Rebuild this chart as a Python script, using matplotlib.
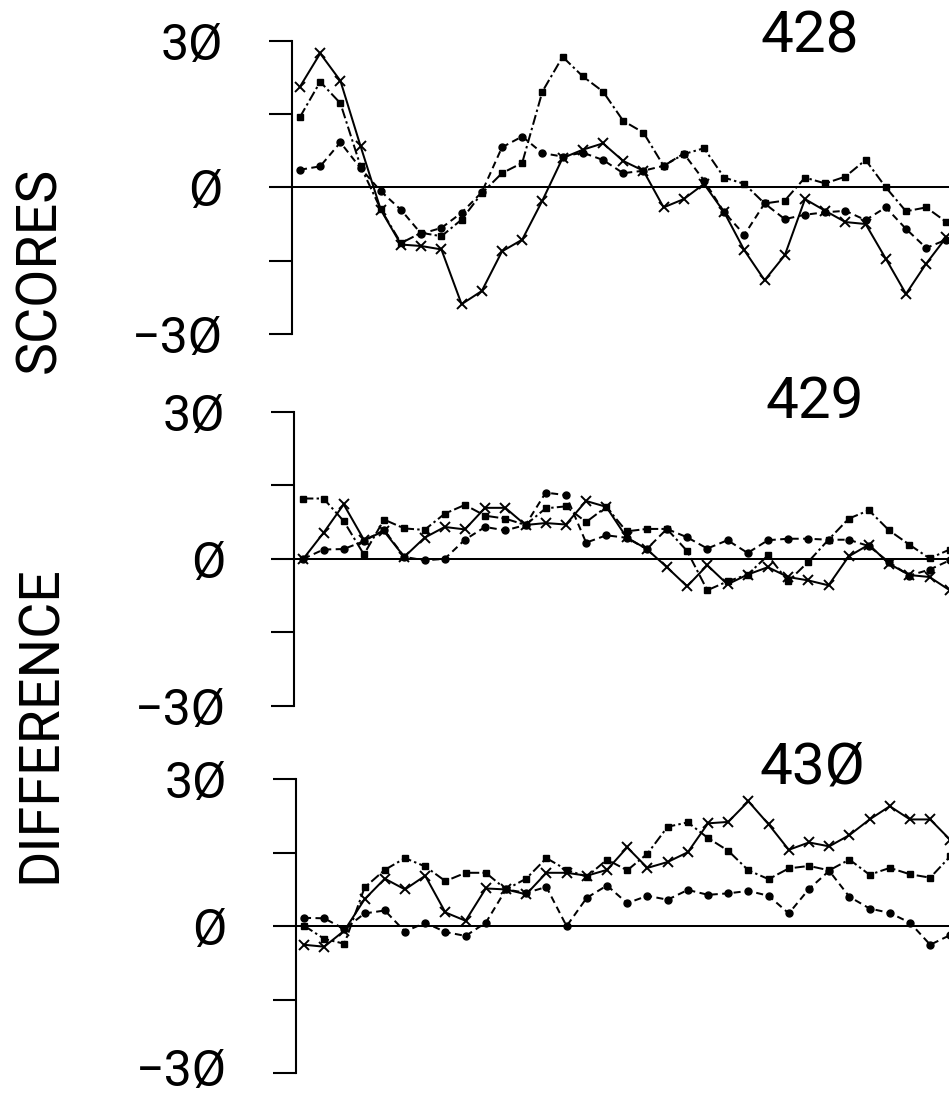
import matplotlib
matplotlib.use("Agg")
import matplotlib.pyplot as plt
import matplotlib.transforms as mtransforms
from matplotlib import font_manager

# ---------------- data ----------------
titles = ["428", "429", "43Ø"]
ytick_values = [-30, -15, 0, 15, 30]
ytick_labels = ["−3Ø", "", "Ø", "", "3Ø"]
ylabel_top = "SCORES"
ylabel_bottom = "DIFFERENCE"

# panel 428
p428_cross = [20.6, 27.4, 21.8, 8.4, -4.6, -11.7, -12.0, -12.7, -23.9, -21.2, -13.1, -10.7,
              -2.7, 6.0, 7.7, 9.0, 5.4, 3.4, -4.1, -2.4, 0.7, -5.1, -12.9, -19.0, -13.9,
              -2.4, -4.8, -7.1, -7.5, -14.6, -21.8, -15.6, -10.2]
p428_square = [14.4, 21.6, 17.2, 4.3, -4.5, -11.4, -9.3, -10.0, -6.6, -1.2, 2.9, 5.0,
               19.6, 26.7, 22.7, 19.6, 13.6, 11.2, 4.4, 6.8, 8.0, 2.0, 0.7, -3.3, -2.7,
               2.0, 0.8, 2.2, 5.6, 0.0, -4.9, -4.1, -7.1]
p428_circle = [3.6, 4.3, 9.2, 3.9, -0.8, -4.6, -9.5, -8.3, -5.2, -1.0, 8.2, 10.4,
               7.0, 6.3, 7.1, 5.6, 2.9, 3.4, 4.4, 6.9, 1.4, -5.1, -9.7, -3.3, -6.5,
               -5.6, -5.1, -4.8, -6.7, -4.1, -8.5, -12.4, -10.7]

# panel 429
p429_cross = [0.0, 5.3, 11.1, 3.9, 5.6, 0.4, 4.3, 6.5, 6.0, 10.4, 10.4, 6.9,
              7.3, 7.0, 11.8, 10.6, 4.4, 2.0, -1.7, -5.6, -1.3, -5.2, -3.2, -1.7, -3.7,
              -4.4, -5.4, 0.5, 2.9, -1.0, -3.3, -3.7, -6.4]
p429_square = [12.3, 12.3, 7.7, 0.9, 8.0, 6.2, 5.9, 9.2, 11.0, 8.8, 8.2, 6.9,
               10.3, 10.7, 7.5, 10.6, 5.6, 6.1, 6.1, 1.6, -6.4, -4.6, -3.2, 0.7, -4.6,
               -0.6, 3.9, 8.2, 9.9, 5.8, 2.9, 0.1, 1.9]
p429_circle = [0.0, 1.9, 2.0, 3.6, 5.9, 0.4, -0.3, 0.0, 3.9, 6.5, 5.8, 6.9,
               13.5, 13.0, 3.3, 4.8, 4.3, 2.0, 6.1, 4.4, 2.1, 3.8, 1.2, 3.8, 4.1,
               4.1, 3.9, 3.9, 2.6, -0.7, -3.4, -2.2, -0.3]

# panel 430
p430_cross = [-3.8, -4.2, -0.9, 5.5, 9.7, 7.5, 10.3, 2.8, 1.1, 7.7, 7.5, 6.5,
              10.9, 10.9, 10.3, 11.5, 16.1, 11.9, 13.1, 15.1, 21.0, 21.3, 25.5, 20.8, 15.6,
              17.1, 16.3, 18.6, 21.8, 24.5, 21.8, 21.8, 17.6]
p430_square = [0.1, -2.6, -3.6, 7.9, 11.5, 13.9, 12.2, 9.2, 10.9, 10.9, 7.5, 9.7,
               13.9, 11.5, 10.1, 13.6, 11.4, 14.8, 20.3, 21.2, 18.0, 15.4, 11.4, 9.6, 11.8,
               12.3, 11.4, 13.6, 10.5, 11.9, 10.6, 9.9, 14.3]
p430_circle = [1.7, 1.6, -0.6, 2.6, 3.2, -1.1, 0.7, -1.2, -2.0, 0.7, 7.5, 6.8,
               8.0, 0.0, 5.8, 8.3, 4.7, 6.2, 5.4, 7.4, 6.4, 6.7, 7.2, 6.2, 2.6,
               7.6, 11.3, 6.0, 3.6, 2.7, 0.7, -3.8, -1.8]

panel_data = [
    (p428_cross, p428_square, p428_circle),
    (p429_cross, p429_square, p429_circle),
    (p430_cross, p430_square, p430_circle),
]

# ---------------- fonts ----------------
names = {f.name for f in font_manager.fontManager.ttflist}
FONT = ["Roboto", "DejaVu Sans"] if "Roboto" in names else ["DejaVu Sans"]
plt.rcParams["font.family"] = FONT
WEIGHT = "normal"

# ---------------- layout (pixels of the 949x1096 image) ----------------
W, H = 949, 1096
DX = 20.2  # pixel spacing between successive points
# (axis x, y of +30, y of -30, x of first point, title centre x, title centre y)
layout = [
    (291.7, 40.7, 334.0, 300.0, 810, 37),
    (294.3, 411.7, 706.0, 303.3, 815, 402),
    (295.7, 779.3, 1073.0, 304.0, 812, 768),
]

fig = plt.figure(figsize=(W / 100, H / 100), dpi=100)
fig.patch.set_facecolor("white")

LW = 1.45
axes = []
for (cross, square, circle), title, (axx, ytop, ybot, x0, tx, ty) in zip(panel_data, titles, layout):
    ax = fig.add_axes([axx / W, 1 - ybot / H, (W - axx) / W, (ybot - ytop) / H])
    axes.append(ax)
    ax.set_xlim((axx - x0) / DX, (W - x0) / DX)
    ax.set_ylim(-30, 30)
    idx = list(range(len(cross)))
    ax.axhline(0, color="black", lw=LW, zorder=1)
    ax.plot(idx, square, color="black", lw=LW, linestyle=(0, (5, 1.6, 1.2, 1.6)),
            marker="s", ms=4.6, mfc="black", mec="black", zorder=3)
    ax.plot(idx, circle, color="black", lw=LW, linestyle=(0, (3.5, 2.2)),
            marker="o", ms=5.0, mfc="black", mec="black", zorder=3)
    ax.plot(idx, cross, color="black", lw=LW, linestyle="-",
            marker="x", ms=6.5, mew=1.4, mec="black", zorder=4)
    for side in ("top", "right", "bottom"):
        ax.spines[side].set_visible(False)
    ax.spines["left"].set_linewidth(1.5)
    ax.set_xticks([])
    ax.set_yticks(ytick_values)
    ax.set_yticklabels(ytick_labels)
    ax.tick_params(axis="y", direction="out", length=16.5, width=1.5, pad=33,
                   labelsize=36)
    for lab in ax.get_yticklabels():
        lab.set_fontweight(WEIGHT)
    fig.text(tx / W, 1 - ty / H, title, ha="center", va="center", fontsize=42,
             fontweight=WEIGHT)

# keep the lowest "−3Ø" label fully inside the image
low_lab = axes[-1].get_yticklabels()[0]
low_lab.set_transform(low_lab.get_transform() +
                      mtransforms.ScaledTranslation(0, 6 / 100, fig.dpi_scale_trans))

fig.text(40 / W, 1 - 270 / H, ylabel_top, rotation=90, ha="center", va="center",
         fontsize=40, fontweight=WEIGHT)
fig.text(40 / W, 1 - 724 / H, ylabel_bottom, rotation=90, ha="center", va="center",
         fontsize=40, fontweight=WEIGHT)

fig.savefig("out.png", dpi=100, facecolor="white")
